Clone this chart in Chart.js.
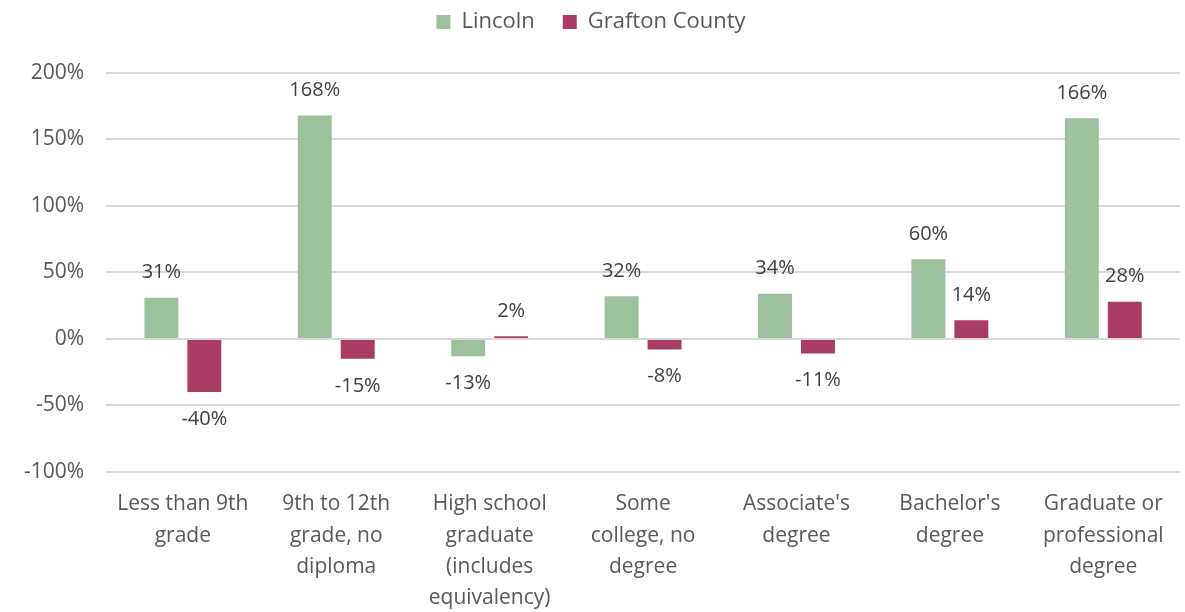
<!DOCTYPE html>
<html lang="en">
<head>
  <meta charset="UTF-8" />
  <title>Educational attainment change</title>
  <script src="https://cdn.jsdelivr.net/npm/chart.js"></script>
  <style>
    html, body { margin: 0; padding: 0; background: #fff; }
    #wrap { width: 1185px; height: 612px; }
  </style>
</head>
<body>
  <div id="wrap"><canvas id="eduChart" width="1185" height="612"></canvas></div>

  <script>
    const categories = [
      ['Less than 9th', 'grade'],
      ['9th to 12th', 'grade, no', 'diploma'],
      ['High school', 'graduate', '(includes', 'equivalency)'],
      ['Some', 'college, no', 'degree'],
      ["Associate's", 'degree'],
      ["Bachelor's", 'degree'],
      ['Graduate or', 'professional', 'degree']
    ];
    const lincoln = [31, 168, -13, 32, 34, 60, 166];
    const grafton = [-40, -15, 2, -8, -11, 14, 28];
    const yTicks = [-100, -50, 0, 50, 100, 150, 200];

    const textGrey = '#595959';
    const fontFamily = '"Open Sans", sans-serif';

    // value labels outside the end of each bar
    const barLabels = {
      id: 'barLabels',
      afterDatasetsDraw(chart) {
        const ctx = chart.ctx;
        ctx.save();
        ctx.font = '20px ' + fontFamily;
        ctx.fillStyle = '#404040';
        ctx.textAlign = 'center';
        ctx.textBaseline = 'middle';
        chart.data.datasets.forEach((ds, i) => {
          chart.getDatasetMeta(i).data.forEach((bar, j) => {
            const v = ds.data[j];
            const y = v >= 0 ? bar.y - 25 : bar.y + 27;
            ctx.fillText(v + '%', bar.x, y);
          });
        });
        ctx.restore();
      }
    };

    // extra room between the legend and the plot area
    const legendGap = {
      id: 'legendGap',
      beforeInit(chart) {
        const fit = chart.legend.fit;
        chart.legend.fit = function () {
          fit.call(this);
          this.height += 30;
        };
      }
    };

    new Chart(document.getElementById('eduChart'), {
      type: 'bar',
      data: {
        labels: categories,
        datasets: [
          { label: 'Lincoln', data: lincoln, backgroundColor: '#9dc09d' },
          { label: 'Grafton County', data: grafton, backgroundColor: '#a83c64' }
        ]
      },
      options: {
        responsive: false,
        animation: false,
        categoryPercentage: 0.56,
        barPercentage: 0.79,
        layout: { padding: { left: 2, right: 5, top: -17, bottom: -11 } },
        plugins: {
          legend: {
            position: 'top',
            labels: {
              boxWidth: 14,
              boxHeight: 14,
              color: textGrey,
              font: { size: 22, family: fontFamily },
              padding: 28
            }
          },
          tooltip: { enabled: false }
        },
        scales: {
          x: {
            grid: { display: false },
            border: { display: false },
            ticks: {
              color: textGrey,
              font: { size: 21, family: fontFamily, lineHeight: 1.49 },
              maxRotation: 0,
              autoSkip: false,
              padding: 9
            }
          },
          y: {
            min: -100,
            max: 200,
            afterBuildTicks: axis => { axis.ticks = yTicks.map(v => ({ value: v })); },
            afterFit: axis => { axis.paddingTop = 0; },
            grid: { color: '#d9d9d9', lineWidth: 2, drawTicks: false },
            border: { display: false },
            ticks: {
              color: textGrey,
              font: { size: 21, family: fontFamily },
              padding: 22,
              callback: v => v + '%'
            }
          }
        }
      },
      plugins: [barLabels, legendGap]
    });
  </script>
</body>
</html>
